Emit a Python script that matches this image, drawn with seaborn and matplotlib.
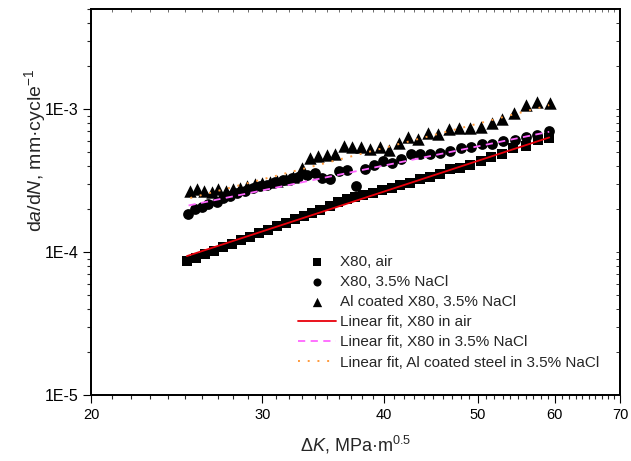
import numpy as np
import pandas as pd
import matplotlib
matplotlib.use('Agg')
import matplotlib.pyplot as plt
import matplotlib.ticker as mticker
import seaborn as sns

dk_air = [25.10, 25.65, 26.20, 26.76, 27.34, 27.93, 28.53, 29.14, 29.77, 30.41,
          31.07, 31.74, 32.42, 33.12, 33.75, 34.40, 35.22, 35.90, 36.67, 37.37,
          38.09, 39.00, 39.84, 40.79, 41.57, 42.57, 43.59, 44.63, 45.70, 46.80,
          47.92, 49.07, 50.36, 51.57, 52.93, 54.33, 56.03, 57.64, 59.16]
rate_air = [8.65e-5, 9.08e-5, 9.68e-5, 1.016e-4, 1.084e-4, 1.137e-4, 1.213e-4, 1.273e-4,
            1.358e-4, 1.425e-4, 1.520e-4, 1.595e-4, 1.701e-4, 1.786e-4, 1.874e-4, 1.967e-4,
            2.098e-4, 2.237e-4, 2.348e-4, 2.424e-4, 2.503e-4, 2.585e-4, 2.713e-4, 2.802e-4,
            2.941e-4, 3.037e-4, 3.240e-4, 3.346e-4, 3.512e-4, 3.806e-4, 3.868e-4, 4.059e-4,
            4.328e-4, 4.617e-4, 4.845e-4, 5.338e-4, 5.513e-4, 6.071e-4, 6.269e-4]

dk_nacl = [25.16, 25.59, 25.99, 26.40, 26.93, 27.36, 27.80, 28.24, 28.80, 29.37,
           29.84, 30.32, 30.92, 31.54, 32.17, 32.68, 33.33, 33.99, 34.56, 35.22,
           35.98, 36.71, 37.46, 38.27, 39.06, 39.90, 40.77, 41.70, 42.65, 43.59,
           44.63, 45.70, 46.85, 47.98, 49.24, 50.45, 51.73, 53.09, 54.55, 56.07,
           57.57, 59.21]
rate_nacl = [1.834e-4, 1.989e-4, 2.074e-4, 2.166e-4, 2.247e-4, 2.374e-4, 2.464e-4, 2.573e-4,
             2.684e-4, 2.790e-4, 2.894e-4, 2.941e-4, 3.101e-4, 3.188e-4, 3.276e-4, 3.362e-4,
             3.455e-4, 3.551e-4, 3.319e-4, 3.240e-4, 3.697e-4, 3.775e-4, 2.908e-4, 3.824e-4,
             4.093e-4, 4.350e-4, 4.192e-4, 4.449e-4, 4.830e-4, 4.869e-4, 4.869e-4, 4.900e-4,
             5.102e-4, 5.338e-4, 5.398e-4, 5.674e-4, 5.665e-4, 5.946e-4, 6.071e-4, 6.372e-4,
             6.613e-4, 7.040e-4]

dk_al = [25.28, 25.69, 26.14, 26.62, 27.03, 27.51, 27.97, 28.46, 28.96, 29.49,
         29.96, 30.56, 31.09, 31.74, 32.29, 32.94, 33.59, 34.26, 34.95, 35.64,
         36.37, 37.11, 37.93, 38.75, 39.65, 40.53, 41.47, 42.40, 43.38, 44.42,
         45.52, 46.65, 47.81, 49.07, 50.36, 51.65, 52.99, 54.50, 56.03, 57.57, 59.30]
rate_al = [2.684e-4, 2.745e-4, 2.671e-4, 2.641e-4, 2.745e-4, 2.671e-4, 2.745e-4, 2.790e-4,
           2.894e-4, 2.975e-4, 3.052e-4, 3.101e-4, 3.137e-4, 3.224e-4, 3.362e-4, 3.868e-4,
           4.580e-4, 4.707e-4, 4.769e-4, 4.885e-4, 5.530e-4, 5.442e-4, 5.450e-4, 5.294e-4,
           5.398e-4, 5.185e-4, 5.757e-4, 6.372e-4, 6.150e-4, 6.829e-4, 6.655e-4, 7.211e-4,
           7.364e-4, 7.364e-4, 7.483e-4, 8.020e-4, 8.472e-4, 9.376e-4, 1.067e-3, 1.125e-3,
           1.107e-3]

# linear fits in log-log space: end points
fit_air_dk = [25.1, 59.2]
fit_air_rate = [9.38e-5, 6.34e-4]
fit_nacl_dk = [25.2, 59.2]
fit_nacl_rate = [2.12e-4, 6.95e-4]
fit_al_dk = [25.3, 59.2]
fit_al_rate = [2.39e-4, 1.067e-3]

x_ticks = [20, 30, 40, 50, 60, 70]
y_ticks = [1e-5, 1e-4, 1e-3]
y_tick_labels = ['1E-5', '1E-4', '1E-3']

sns.set_style('ticks')
plt.rcParams['font.family'] = ['Liberation Sans', 'DejaVu Sans']
plt.rcParams['mathtext.fontset'] = 'custom'
plt.rcParams['mathtext.rm'] = 'Liberation Sans'
plt.rcParams['mathtext.it'] = 'Liberation Sans:italic'

fig = plt.figure(figsize=(6.31, 4.61), dpi=100)
ax = fig.add_axes([91 / 631, 1 - 395 / 461, 529 / 631, 385.7 / 461])

mk = dict(color='black', edgecolor='black', linewidth=0, s=60, zorder=3)
sns.scatterplot(x=dk_air, y=rate_air, marker='s', label='X80, air', ax=ax, **mk)
sns.scatterplot(x=dk_nacl, y=rate_nacl, marker='o', label='X80, 3.5% NaCl', ax=ax, **mk)
sns.scatterplot(x=dk_al, y=rate_al, marker='^', label='Al coated X80, 3.5% NaCl', ax=ax,
                **dict(mk, s=80))

sns.lineplot(x=fit_air_dk, y=fit_air_rate, color='#e8000b', lw=1.3,
             label='Linear fit, X80 in air', ax=ax, zorder=4)
sns.lineplot(x=fit_nacl_dk, y=fit_nacl_rate, color='#ff66ff', lw=1.3, linestyle=(0, (4, 3)),
             label='Linear fit, X80 in 3.5% NaCl', ax=ax, zorder=4)
sns.lineplot(x=fit_al_dk, y=fit_al_rate, color='#ff9a3c', lw=1.4, linestyle=(0, (1, 4)),
             label='Linear fit, Al coated steel in 3.5% NaCl', ax=ax, zorder=4)

ax.set_xscale('log')
ax.set_yscale('log')
ax.set_xlim(20, 70)
ax.set_ylim(1e-5, 5e-3)

ax.xaxis.set_major_locator(mticker.FixedLocator(x_ticks))
ax.xaxis.set_major_formatter(mticker.FixedFormatter([str(t) for t in x_ticks]))
ax.xaxis.set_minor_locator(mticker.FixedLocator([v for v in range(21, 70) if v % 10]))
ax.xaxis.set_minor_formatter(mticker.NullFormatter())
ax.yaxis.set_major_locator(mticker.FixedLocator(y_ticks))
ax.yaxis.set_major_formatter(mticker.FixedFormatter(y_tick_labels))
ax.yaxis.set_minor_locator(mticker.LogLocator(base=10, subs=np.arange(2, 10)))
ax.yaxis.set_minor_formatter(mticker.NullFormatter())

ax.tick_params(which='major', direction='out', length=6, width=0.8, colors='black', pad=3)
ax.tick_params(which='minor', direction='out', length=3, width=0.8)
ax.tick_params(axis='x', labelsize=10.5)
ax.tick_params(axis='y', labelsize=11.5)
for sp in ax.spines.values():
    sp.set_linewidth(1.1)
    sp.set_color('black')

# inward ticks on top and right
axt = ax.twiny()
axt.set_xscale('log')
axt.set_xlim(ax.get_xlim())
axt.xaxis.set_major_locator(mticker.FixedLocator(x_ticks))
axt.xaxis.set_minor_locator(mticker.FixedLocator([v for v in range(21, 70) if v % 10]))
axt.xaxis.set_major_formatter(mticker.NullFormatter())
axt.xaxis.set_minor_formatter(mticker.NullFormatter())
axt.tick_params(which='both', direction='in', length=2, width=0.6, colors='#555555')
axr = ax.twinx()
axr.set_yscale('log')
axr.set_ylim(ax.get_ylim())
axr.yaxis.set_major_locator(mticker.FixedLocator(y_ticks))
axr.yaxis.set_minor_locator(mticker.LogLocator(base=10, subs=np.arange(2, 10)))
axr.yaxis.set_major_formatter(mticker.NullFormatter())
axr.yaxis.set_minor_formatter(mticker.NullFormatter())
axr.tick_params(which='both', direction='in', length=3, width=0.7, colors='#333333')
for a in (axt, axr):
    for sp in a.spines.values():
        sp.set_linewidth(1.1)
        sp.set_color('black')

ax.set_xlabel('Δ$\\it{K}$, MPa·m$^{0.5}$', fontsize=13, labelpad=9)
ax.set_ylabel('d$\\it{a}$/d$\\it{N}$, mm·cycle$^{-1}$', fontsize=14)
ax.yaxis.set_label_coords((48 - 91) / 529, (395 - 150) / 385.7)

ax.legend(loc='upper left', bbox_to_anchor=((297.5 - 91) / 529, (395 - 255) / 385.7),
          frameon=False, fontsize=11, borderpad=0, borderaxespad=0, handlelength=2.5,
          handletextpad=0.3, labelspacing=0.4, markerscale=0.75)

fig.savefig('out.png', dpi=100)
